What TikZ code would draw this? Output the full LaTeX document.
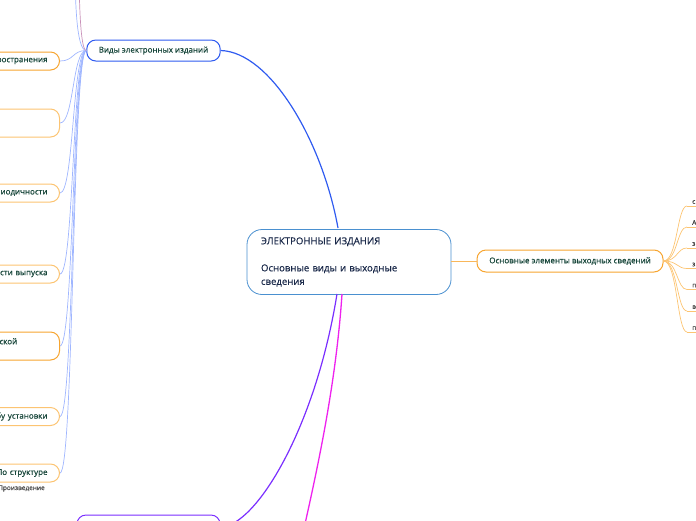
\documentclass[tikz,border=0pt]{standalone}
\usepackage{fontspec}
\setmainfont{Open Sans}[FakeBold=0.45]
\usetikzlibrary{positioning}
\definecolor{vidyblue}{HTML}{2F5BF0}
\definecolor{paleblue}{HTML}{9FB6FF}
\definecolor{rootblue}{HTML}{4A90D0}
\definecolor{branchorange}{HTML}{F7A530}
\definecolor{paleorange}{HTML}{FCC472}
\definecolor{leafgreen}{HTML}{17463A}
\definecolor{rootnavy}{HTML}{1B2A4A}
\definecolor{violetline}{HTML}{7A2EFF}
\definecolor{magentaline}{HTML}{EE22EE}
\definecolor{mauveline}{HTML}{C890B8}

\begin{document}
\begin{tikzpicture}[x=1pt, y=-1pt,
  topic/.style={draw=#1, line width=1pt, rounded corners=9pt, fill=white,
    font=\fontsize{8}{9.5}\selectfont, text=leafgreen, inner xsep=12pt, inner ysep=0pt},
  side/.style={topic=#1, anchor=east, text width=176pt, align=right, minimum height=18pt},
  twig/.style={paleblue, line width=0.7pt},
  tip/.style={anchor=south west, text width=22pt, inner xsep=5pt, inner ysep=2pt,
    font=\fontsize{6.5}{8}\selectfont, text=black!75, align=left}]
  \useasboundingbox (0,0) rectangle (696,520);
  \clip (0,0) rectangle (696,520);
  % root
  \node[draw=rootblue, line width=0.8pt, rounded corners=15pt, fill=white, text=rootnavy,
    minimum width=204pt, minimum height=65pt, text width=176pt, align=left,
    inner xsep=14pt, font=\fontsize{9.6}{13.5}\selectfont] (root) at (349,262)
    {ЭЛЕКТРОННЫЕ ИЗДАНИЯ\\[0pt]\mbox{}\\Основные виды и выходные\\сведения};
  % main branches
  \node[topic=vidyblue, minimum width=133pt, minimum height=21pt] (vidy) at (153.5,50.5) {Виды электронных изданий};
  \node[topic=branchorange, minimum width=186pt, minimum height=22pt] (kel) at (570,261) {Основные элементы выходных сведений};
  \node[topic=violetline, minimum width=143pt, minimum height=24pt] (konk) at (148.5,527) {};
  \coordinate (offbottom) at (297,560);
  \draw[vidyblue, line width=1.2pt] (338,228) .. controls (322,140) and (270,52) .. (vidy.east);
  \draw[branchorange!80, line width=1pt] (451,261) -- (kel.west);
  \draw[violetline, line width=1.2pt] (337,294) .. controls (315,430) and (255,527) .. (konk.east);
  \draw[magentaline, line width=1.3pt] (342,294) .. controls (335,400) and (310,500) .. (offbottom);
  % kinds of editions
  \node[side=branchorange] (vA) at (60,61) {ространения};
  \node[side=paleorange, minimum height=28pt] (vB) at (60,123) {};
  \node[side=paleorange] (vC) at (60,193) {иодичности};
  \node[side=paleorange] (vD) at (60,274) {сти выпуска};
  \node[topic=branchorange, anchor=east, text width=48pt, align=left, minimum height=28pt] (vE) at (60,346) {ской\\\mbox{}};
  \node[side=paleorange] (vF) at (60,416.5) {бу установки};
  \node[side=paleorange] (vG) at (60,473) {По структуре};
  \foreach \n in {vA,vB,vC,vD,vE,vF,vG}
    \draw[twig] (vidy.west) .. controls +(-14,0) and +(14,0) .. (\n.east);
  \coordinate (offtopA) at (75,-40);
  \coordinate (offtopB) at (79,-40);
  \draw[twig] (vidy.west) .. controls +(-10,0) and +(0,40) .. (offtopA);
  \draw[mauveline, line width=0.7pt] (vidy.west) .. controls +(-6,0) and +(0,40) .. (offtopB);
  % output data elements
  \node[tip] (e1) at (687,206) {с};
  \node[tip] (e2) at (687,227) {А};
  \node[tip] (e3) at (687,248) {з};
  \node[tip] (e4) at (687,268.5) {з};
  \node[tip] (e5) at (687,289.5) {п};
  \node[tip] (e6) at (687,311) {в};
  \node[tip] (e7) at (687,332) {п};
  \foreach \n in {e1,e2,e3,e4,e5,e6,e7} {
    \draw[paleorange, line width=1pt] (\n.south west) -- (\n.south east);
    \draw[paleorange, line width=0.7pt] (kel.east) .. controls +(14,0) and +(-10,0) .. (\n.south west);
  }
  \node[anchor=base west, inner sep=0pt, font=\fontsize{6.5}{8}\selectfont, text=black!70] (proiz) at (-2,490) {Произведение};
\end{tikzpicture}
\end{document}
